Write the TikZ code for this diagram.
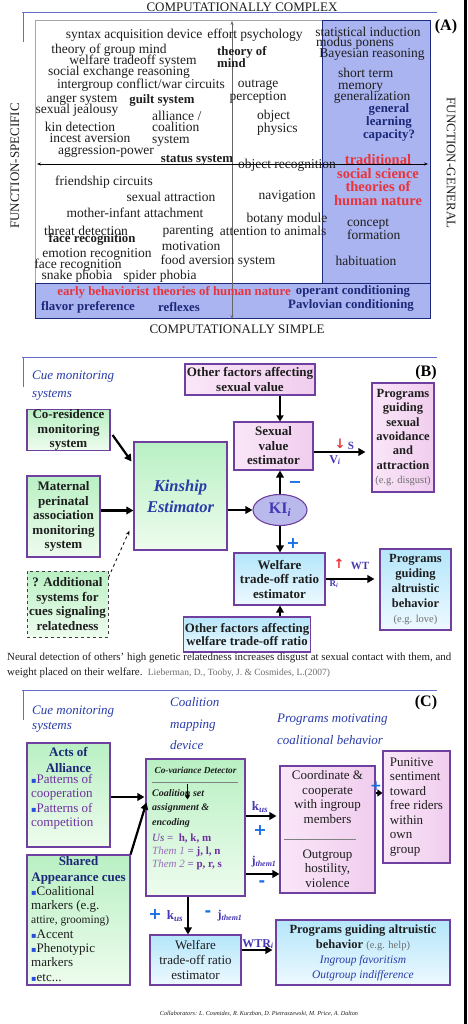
\documentclass[tikz,border=0pt]{standalone}
\usepackage{fontspec}
\setmainfont{Liberation Serif}
\newfontfamily\dejavu{DejaVu Sans}
\usetikzlibrary{arrows.meta,calc,shapes.geometric}
\definecolor{hdrblue}{RGB}{100,110,200}
\definecolor{shadeA}{RGB}{170,180,240}
\definecolor{navy}{RGB}{28,40,120}
\definecolor{txt}{RGB}{30,30,30}
\definecolor{redT}{RGB}{232,52,58}
\definecolor{bpurple}{RGB}{112,64,160}
\definecolor{gtop}{RGB}{185,240,195}
\definecolor{gbot}{RGB}{238,252,238}
\definecolor{ptop}{RGB}{250,230,248}
\definecolor{pbot}{RGB}{240,205,238}
\definecolor{btop}{RGB}{180,230,250}
\definecolor{bbot}{RGB}{238,249,255}
\definecolor{cueblue}{RGB}{40,60,170}
\definecolor{kiblue}{RGB}{70,55,180}
\definecolor{kifill}{RGB}{185,185,235}
\definecolor{plusblue}{RGB}{20,110,230}
\definecolor{vpurple}{RGB}{112,48,160}
\definecolor{grayT}{RGB}{110,110,110}
\definecolor{bulblue}{RGB}{40,80,220}
\newcommand\bul{{\dejavu\color{bulblue}\fontsize{8}{8}\selectfont ▪}}
\begin{document}
\begin{tikzpicture}[x=1pt,y=-1pt,
  tA/.style={inner sep=0pt, text=txt, font=\fontsize{13.5}{11.5}\selectfont},
  tAb/.style={inner sep=0pt, text=txt, font=\fontsize{12.8}{11}\selectfont\bfseries},
  tAn/.style={inner sep=0pt, text=navy, font=\fontsize{12.8}{11.5}\selectfont\bfseries},
  tAr/.style={inner sep=0pt, text=redT, font=\fontsize{12.8}{11.5}\selectfont\bfseries},
  box/.style={draw=bpurple, line width=1.1pt, inner xsep=1pt, inner ysep=0pt, align=center, text=txt},
  gbox/.style={box, top color=gtop, bottom color=gbot},
  pbox/.style={box, left color=ptop, right color=pbot},
  bbox/.style={box, top color=btop, bottom color=bbot},
  fB/.style={font=\fontsize{13}{14.5}\selectfont\bfseries},
  fR/.style={font=\fontsize{13}{14.5}\selectfont},
  big/.style={line width=2.2pt, -{Triangle[length=7pt,width=7.5pt]}},
  hdr/.style={draw=hdrblue, line width=1pt},
  cue/.style={inner sep=0pt, text=cueblue, align=left, anchor=west},
  lbl/.style={inner sep=0pt, font=\fontsize{16}{16}\selectfont\bfseries, text=black},
  sgn/.style={inner sep=0pt, text=plusblue, font=\dejavu\fontsize{16}{16}\selectfont\bfseries},
  sml/.style={inner sep=0pt, text=kiblue, font=\fontsize{11}{11}\selectfont\bfseries},
  plain/.style={inner sep=0pt, text=txt}
]
\fill[white] (0,0) rectangle (467,1024);
\useasboundingbox (0,0) rectangle (467,1024);
\fill[black] (464,0) rectangle (467,1024);

% ================= PANEL A =================
\draw[hdr] (22,13) -- (437,13);
\draw[hdr] (23,13) -- (23,42);
\node[plain, font=\fontsize{13}{13}\selectfont] (cc) at (242,7) {COMPUTATIONALLY COMPLEX};
\node[plain, font=\fontsize{13}{13}\selectfont] (cs) at (237,329) {COMPUTATIONALLY SIMPLE};
\node[plain, rotate=90, font=\fontsize{13}{13}\selectfont] (fs) at (15,166) {FUNCTION-SPECIFIC};
\node[plain, rotate=-90, font=\fontsize{13}{13}\selectfont] (fg) at (451,163) {FUNCTION-GENERAL};
\node[lbl] (labA) at (446,27) {(A)};

\draw[gray!70, line width=0.8pt] (35,20) rectangle (430,318);
\fill[shadeA] (322,20) rectangle (430,283);
\fill[shadeA] (35,283) rectangle (430,318);
\draw[navy, line width=0.8pt] (322,283) -- (322,20) -- (430,20) -- (430,318) -- (35,318) -- (35,283) -- (430,283);
\coordinate (vtop) at (232,21);
\coordinate (vbot) at (232,319);
\coordinate (hl) at (37,164);
\coordinate (hr) at (428,164);
\draw[gray!80!black, line width=0.8pt, {Stealth[length=4pt]}-{Stealth[length=4pt]}] (vbot) -- (vtop);
\draw[black, line width=0.8pt, {Stealth[length=4pt]}-{Stealth[length=4pt]}] (hl) -- (hr);

\node[tA] (a1) at (134,35) {syntax acquisition device};
\node[tA] (a2) at (255,35) {effort psychology};
\node[tA] (a3) at (368,32) {statistical induction};
\node[tA] (a4) at (355,43) {modus ponens};
\node[tA] (a5) at (372,54) {Bayesian reasoning};
\node[tA] (a6) at (109,50) {theory of group mind};
\node[tAb, anchor=west, align=left] (a7) at (217,57) {theory of\\mind};
\node[tA] (a8) at (133,61) {welfare tradeoff system};
\node[tA] (a9) at (119,72) {social exchange reasoning};
\node[tA] (a10) at (141,85) {intergroup conflict/war circuits};
\node[tA, align=center, font=\fontsize{13.5}{13}\selectfont] (a11) at (258,91.5) {outrage\\perception};
\node[tA, anchor=west, align=left, font=\fontsize{13.5}{12}\selectfont] (a12) at (338,80) {short term\\memory};
\node[tA] (a13) at (372,97) {generalization};
\node[tAn, align=center] (a14) at (389,122.5) {general\\learning\\capacity?};
\node[tA] (a15) at (82,100) {anger system};
\node[tAb] (a16) at (162,100) {guilt system};
\node[tA] (a17) at (77,110) {sexual jealousy};
\node[tA, anchor=west, align=left] (a18) at (152,128.5) {alliance /\\coalition\\system};
\node[tA, anchor=west, align=left] (a19) at (257,122.5) {object\\physics};
\node[tA] (a20) at (80,127) {kin detection};
\node[tA] (a21) at (90,138) {incest aversion};
\node[tA] (a22) at (106,151) {aggression-power};
\node[tAb] (a23) at (197,160) {status system};
\node[tA] (a24) at (287,165) {object recognition};
\node[tAr, align=center, font=\fontsize{14.5}{13.5}\selectfont\bfseries] (a25) at (378,180) {traditional\\social science\\theories of\\human nature};
\node[tA] (a26) at (104,182) {friendship circuits};
\node[tA] (a27) at (171,197) {sexual attraction};
\node[tA] (a28) at (287,196) {navigation};
\node[tA] (a29) at (135,213) {mother-infant attachment};
\node[tA] (a30) at (287,219) {botany module};
\node[tA, anchor=west, align=left, font=\fontsize{13.5}{11}\selectfont] (a31) at (347,229.5) {concept\\formation};
\node[tA] (a32) at (86,231) {threat detection};
\node[tAb] (a33) at (92,239) {face recognition};
\node[tA] (a34) at (188,231) {parenting};
\node[tA] (a35) at (273,231) {attention to animals};
\node[tA] (a36) at (97,254) {emotion recognition};
\node[tA] (a37) at (191,246) {motivation};
\node[tA] (a38) at (78,265) {face recognition};
\node[tA] (a39) at (218,261) {food aversion system};
\node[tA] (a40) at (366,261) {habituation};
\node[tA] (a41) at (77,276) {snake phobia};
\node[tA] (a42) at (160,276) {spider phobia};
\node[tAr] (a43) at (174,292) {early behaviorist theories of human nature};
\node[tAn] (a44) at (353,291) {operant conditioning};
\node[tAn] (a45) at (88,307) {flavor preference};
\node[tAn] (a46) at (179,307) {reflexes};
\node[tAn] (a47) at (351,305) {Pavlovian conditioning};

% ================= PANEL B =================
\draw[hdr] (22,357) -- (437,357);
\draw[hdr] (23,357) -- (23,387);
\node[cue, font=\fontsize{13}{18}\selectfont\itshape] (cueB) at (32,386) {Cue monitoring\\systems};
\node[lbl] (labB) at (426,373) {(B)};
\node[pbox, fB, minimum width=130, minimum height=31] (otherS) at (250,379.5) {Other factors affecting\\sexual value};
\node[pbox, font=\fontsize{12.5}{14.3}\selectfont\bfseries, minimum width=62, minimum height=109] (progS) at (403,437.5) {Programs\\guiding\\sexual\\avoidance\\and\\attraction\\{\mdseries\fontsize{10.5}{14.3}\selectfont\color{grayT}(e.g. disgust)}};
\node[gbox, font=\fontsize{13}{14.3}\selectfont\bfseries, minimum width=83, minimum height=40] (coRes) at (68.5,430) {Co-residence\\monitoring\\system};
\node[pbox, fB, minimum width=79, minimum height=48] (sexV) at (273.5,446) {Sexual\\value\\estimator};
\node[gbox, minimum width=93, minimum height=108, text=cueblue, font=\fontsize{16.5}{21}\selectfont\bfseries\itshape] (kin) at (180.5,496) {Kinship\\Estimator};
\node[gbox, fB, minimum width=73, minimum height=81] (mat) at (63.5,516.5) {Maternal\\perinatal\\association\\monitoring\\system};
\node[ellipse, draw=bpurple, line width=1.1pt, fill=kifill, minimum width=54, minimum height=31, inner sep=0pt, text=kiblue, font=\fontsize{16}{16}\selectfont\bfseries] (ki) at (280,510) {KI\textsubscript{\itshape i}};
\node[bbox, fB, minimum width=91, minimum height=52] (welB) at (279.5,579) {Welfare\\trade-off ratio\\estimator};
\node[bbox, font=\fontsize{12.5}{15}\selectfont\bfseries, minimum width=71, minimum height=81] (progA) at (415.5,589.5) {Programs\\guiding\\altruistic\\behavior\\{\mdseries\fontsize{10.5}{15}\selectfont\color{grayT}(e.g. love)}};
\node[bbox, font=\fontsize{12.8}{13.5}\selectfont\bfseries, minimum width=126, minimum height=35] (otherW) at (247,634.5) {Other factors affecting\\welfare trade-off ratio};
\node[box, top color=gtop, bottom color=gbot, draw=black!75, dashed, line width=0.9pt, fB, minimum width=81, minimum height=66] (addl) at (67.5,604) {? Additional\\systems for\\cues signaling\\relatedness};

\draw[line width=1.8pt, -{Triangle[length=6pt,width=7pt]}] (otherS.south -| ki) -- (sexV.north -| ki);
\draw[big] ($(coRes.east)+(2,5)$) -- ($(kin.north west)+(-2,20)$);
\draw[big] ($(mat.east)+(0,-6)$) -- ($(kin.west |- mat.east)+(0,-6)$);
\draw[big] (kin.east |- ki.west) -- (ki.west);
\draw[big] (ki.north) -- (sexV.south -| ki);
\draw[big] (ki.south) -- (welB.north -| ki);
\draw[big] (otherW.north -| ki) -- (welB.south -| ki);
\draw[big] ($(sexV.east)+(0,6)$) -- ($(progS.west |- sexV.east)+(-6,6)$);
\draw[big] (welB.east) -- ($(progA.west |- welB.east)+(-5,0)$);
\draw[dashed, line width=0.8pt, -{Stealth[length=5pt]}] ($(addl.north east)+(0,7)$) -- ($(kin.south west)+(-4,-20)$);

\node[sgn] (minusB) at (295,485) {−};
\node[sgn] (plusB) at (293,543) {+};
\node[inner sep=0pt, text=redT, font=\dejavu\fontsize{13}{13}\selectfont\bfseries] (dnS) at (340,444) {↓};
\node[sml] (sS) at (351,446) {S};
\node[sml, font=\fontsize{12}{12}\selectfont\bfseries] (vi) at (335,460) {V\textsubscript{\itshape i}};
\node[inner sep=0pt, text=redT, font=\dejavu\fontsize{13}{13}\selectfont\bfseries] (upW) at (339,564) {↑};
\node[sml] (wt) at (360,566) {WT};
\node[sml, font=\fontsize{9}{9}\selectfont\bfseries] (ri) at (334,584) {R\textsubscript{\itshape i}};

\node[plain, anchor=west, align=left, font=\fontsize{10.9}{15}\selectfont] (cap) at (7,665.5) {Neural detection of others’ high genetic relatedness increases disgust at sexual contact with them, and\\weight placed on their welfare.\ \ {\color{grayT}\fontsize{9.5}{15}\selectfont Lieberman, D., Tooby, J. \& Cosmides, L.(2007)}};

% ================= PANEL C =================
\draw[hdr] (22,690) -- (437,690);
\draw[hdr] (23,690) -- (23,720);
\node[lbl] (labC) at (426,703) {(C)};
\node[cue, font=\fontsize{13}{15}\selectfont\itshape] (cueC) at (32,719.5) {Cue monitoring\\systems};
\node[cue, font=\fontsize{13}{21.5}\selectfont\itshape] (coalT) at (170,724) {Coalition\\mapping\\device};
\node[cue, font=\fontsize{13}{22}\selectfont\itshape] (progT) at (277,729) {Programs motivating\\coalitional behavior};

\node[gbox, minimum width=83, minimum height=104] (acts) at (68.5,795) {};
\node[plain, align=center, text=navy, font=\fontsize{13}{16}\selectfont\bfseries] (actsT) at (68.5,760) {Acts of\\Alliance};
\node[plain, anchor=north west, align=left, text=vpurple, font=\fontsize{13}{14.5}\selectfont] (actsL) at (31,774) {\bul Patterns of\\cooperation\\\bul Patterns of\\competition};

\node[gbox, minimum width=99, minimum height=137] (cov) at (195.5,827.5) {};
\node[plain, font=\fontsize{9.3}{12}\selectfont\bfseries\itshape] (covT) at (195.5,770) {Co-variance Detector};
\draw[gray, line width=0.6pt] ($(cov.north west)+(7,24)$) -- ($(cov.north east)+(-8,24)$);
\node[plain, anchor=north west, align=left, font=\fontsize{10}{14.5}\selectfont\bfseries\itshape] (covS) at (152,789) {Coalition set\\assignment \&\\encoding};
\draw[line width=1.2pt, -{Triangle[length=4pt,width=5pt]}] ($(cov.north west)+(42,26)$) -- ($(cov.north west)+(42,41)$);
\node[plain, anchor=north west, align=left, text=vpurple, font=\fontsize{11}{13}\selectfont] (covU) at (152,834) {\textit{Us} =\ \ \textbf{h, k, m}\\{\color{vpurple!70}\textit{Them 1}} = \textbf{j, l, n}\\{\color{vpurple!70}\textit{Them 2}} = \textbf{p, r, s}};

\node[pbox, minimum width=95, minimum height=127] (coord) at (327.5,829.5) {};
\node[plain, align=center, font=\fontsize{13}{14.5}\selectfont] (coordT) at (327.5,797) {Coordinate \&\\cooperate\\with ingroup\\members};
\draw[gray, line width=0.8pt] ($(coord.north west)+(5,74)$) -- ($(coord.north east)+(-20,74)$);
\node[plain, align=center, font=\fontsize{13}{14.5}\selectfont] (coordO) at (327.5,868.5) {Outgroup\\hostility,\\violence};

\node[pbox, align=left, font=\fontsize{13}{14.5}\selectfont, minimum width=67, minimum height=112] (pun) at (416.5,807) {Punitive\\sentiment\\toward\\free riders\\within\\own\\group};

\node[gbox, minimum width=103, minimum height=130] (shared) at (78.5,920) {};
\node[plain, align=center, text=navy, font=\fontsize{13}{16}\selectfont\bfseries] (sharedT) at (78.5,870) {Shared\\Appearance cues};
\node[plain, anchor=north west, align=left, font=\fontsize{13}{14.3}\selectfont] (sharedL) at (31,886) {\bul Coalitional\\markers (e.g.\\{\fontsize{11.5}{14.3}\selectfont attire, grooming)}\\\bul Accent\\\bul Phenotypic\\markers\\\bul etc...};

\node[bbox, fR, font=\fontsize{13}{15}\selectfont, minimum width=91, minimum height=50] (welC) at (195.5,960) {Welfare\\trade-off ratio\\estimator};
\node[bbox, font=\fontsize{12.5}{15}\selectfont, minimum width=174, minimum height=65] (progC) at (363,952.5) {\textbf{Programs guiding altruistic}\\\textbf{behavior} {\color{grayT}\fontsize{10.5}{15}\selectfont(e.g. help)}\\{\color{cueblue}\itshape\fontsize{11.5}{15}\selectfont Ingroup favoritism}\\{\color{cueblue}\itshape\fontsize{11.5}{15}\selectfont Outgroup indifference}};

\draw[big] ($(acts.east)+(0,2)$) -- ($(cov.west |- acts.east)+(-1,2)$);
\draw[big] (shared.north east) -- ($(cov.west)+(1,-25)$);
\draw[big] ($(cov.east)+(0,-11.5)$) -- ($(coord.west |- cov.east)+(-3,-11.5)$);
\draw[big] ($(cov.east)+(0,46.5)$) -- ($(coord.west |- cov.east)+(0,46.5)$);
\draw[big, -{Triangle[length=5pt,width=7pt]}] ($(coord.east)+(0,-36.5)$) -- ($(pun.west |- coord.east)+(0,-36.5)$);
\draw[big] ($(cov.south)+(-7.5,0)$) -- ($(welC.north)+(-7.5,0)$);
\draw[big] ($(welC.east)+(0,-10)$) -- ($(progC.west |- welC.east)+(-3,-10)$);

\node[sml, font=\fontsize{13}{13}\selectfont\bfseries] (kus) at (260,807) {k\textsubscript{\itshape us}};
\node[sgn] (plusK) at (260,830) {+};
\node[sml, font=\fontsize{12}{12}\selectfont\bfseries] (jth) at (264,862) {j\textsubscript{\itshape them1}};
\node[sgn] (minusJ) at (262,884) {-};
\node[sgn, font=\dejavu\fontsize{14}{14}\selectfont\bfseries] (plusP) at (376,786) {+};
\node[sgn] (plusW) at (155,914) {+};
\node[sml, font=\fontsize{13}{13}\selectfont\bfseries] (kus2) at (175,916) {k\textsubscript{\itshape us}};
\node[sgn] (minusW) at (208,914) {-};
\node[sml, font=\fontsize{12}{12}\selectfont\bfseries] (jth2) at (230,916) {j\textsubscript{\itshape them1}};
\node[sml, font=\fontsize{12}{12}\selectfont\bfseries] (wtr) at (258,944) {WTR\textsubscript{\itshape i}};

\node[plain, font=\fontsize{6.2}{7}\selectfont\itshape] (collab) at (259,1014) {Collaborators: L. Cosmides, R. Kurzban, D. Pietraszewski, M. Price, A. Dalton};
\end{tikzpicture}
\end{document}
